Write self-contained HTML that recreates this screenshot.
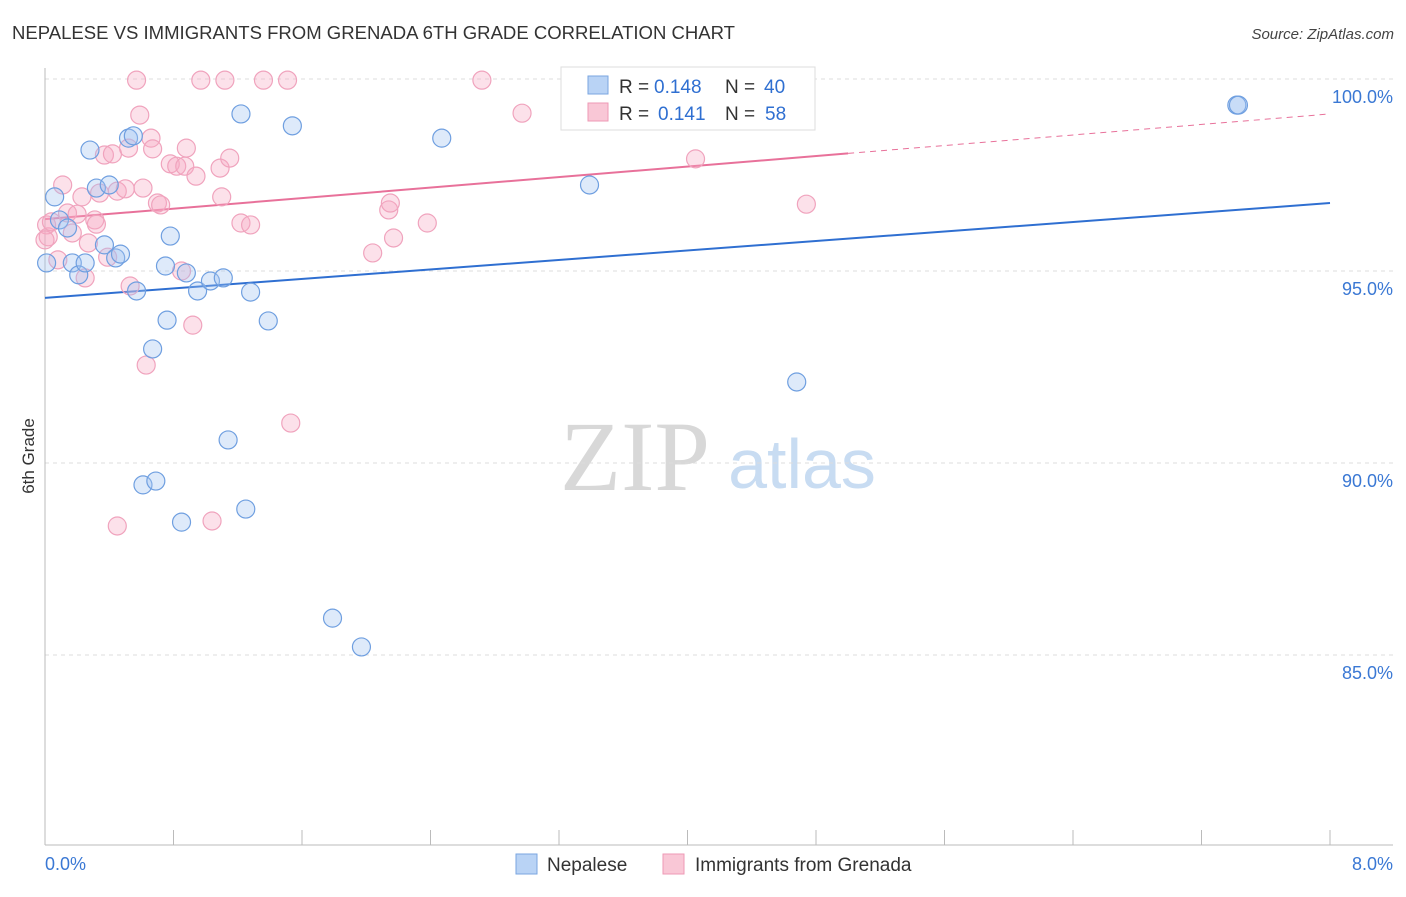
<!DOCTYPE html>
<html><head><meta charset="utf-8"><style>
body{margin:0;background:#fff;font-family:"Liberation Sans",sans-serif;}
</style></head><body>
<svg id="chart" width="1406" height="892" viewBox="0 0 1406 892" xmlns="http://www.w3.org/2000/svg" font-family="Liberation Sans, sans-serif">
<text x="12" y="39" font-size="18" fill="#333" textLength="723" lengthAdjust="spacingAndGlyphs">NEPALESE VS IMMIGRANTS FROM GRENADA 6TH GRADE CORRELATION CHART</text>
<text x="1394" y="39" font-size="15" fill="#444" text-anchor="end" font-style="italic">Source: ZipAtlas.com</text>
<text transform="translate(34,456) rotate(-90)" font-size="17" fill="#333" text-anchor="middle">6th Grade</text>
<g>
<text x="635" y="490" font-size="100" fill="#d8d8d8" text-anchor="middle" style="font-family:'Liberation Serif',serif">ZIP</text>
<text x="802" y="488" font-size="70" fill="#c8dcf2" text-anchor="middle">atlas</text>
</g>
<g id="grid"></g>
<g id="axes"></g>
<g id="lines"></g>
<g id="points"></g>
<g>
<rect x="561" y="67" width="254" height="63" fill="#fff" stroke="#ddd"/>
<rect x="588" y="76" width="20" height="18" fill="#b9d3f5" stroke="#7aa6e0"/>
<text x="619" y="93" font-size="19" fill="#333">R =</text>
<text x="654" y="93" font-size="19" fill="#2f6fd1">0.148</text>
<text x="725" y="93" font-size="19" fill="#333">N =</text>
<text x="764" y="93" font-size="19" fill="#2f6fd1">40</text>
<rect x="588" y="103" width="20" height="18" fill="#f9c7d6" stroke="#ee9ab5"/>
<text x="619" y="120" font-size="19" fill="#333">R =</text>
<text x="658" y="120" font-size="19" fill="#2f6fd1">0.141</text>
<text x="725" y="120" font-size="19" fill="#333">N =</text>
<text x="765" y="120" font-size="19" fill="#2f6fd1">58</text>
</g>
<g>
<rect x="516" y="854" width="21" height="20" fill="#b9d3f5" stroke="#7aa6e0"/>
<text x="547" y="871" font-size="19" fill="#333">Nepalese</text>
<rect x="663" y="854" width="21" height="20" fill="#f9c7d6" stroke="#ee9ab5"/>
<text x="695" y="871" font-size="19" fill="#333">Immigrants from Grenada</text>
</g>
</svg>
<script>
const yTicks=[100,95,90,85];
const xTickLabels=["0.0%","8.0%"];
const blueX=[.01,.06,.09,.14,.17,.21,.25,.28,.32,.37,.40,.44,.47,.52,.55,.57,.67,.61,.69,.75,.76,.78,.85,.88,.95,1.03,1.11,1.14,1.22,1.25,1.28,1.39,1.54,1.79,1.97,2.47,3.39,4.68,7.42,7.43];
const blueY=[95.21,96.93,96.33,96.12,95.21,94.90,95.21,98.15,97.16,95.68,97.24,95.34,95.44,98.46,98.52,94.48,92.97,89.43,89.53,95.13,93.72,95.91,88.46,94.95,94.48,94.74,94.82,90.60,99.09,88.80,94.45,93.70,98.78,85.96,85.21,98.46,97.24,92.11,99.32,99.32];
const pinkX=[.01,.02,.04,.08,.11,.14,.17,.20,.23,.25,.27,.31,.32,.34,.37,.39,.42,.45,.45,.50,.52,.53,.57,.59,.61,.63,.66,.67,.70,.72,.78,.82,.85,.87,.88,.92,.94,.97,1.04,1.09,1.10,1.12,1.15,1.22,1.28,1.36,1.51,1.53,2.04,2.14,2.15,2.17,2.38,2.72,2.97,4.05,4.74,0];
const pinkY=[96.20,95.89,96.28,95.29,97.24,96.51,95.99,96.48,96.93,94.82,95.73,96.33,96.22,97.03,98.02,95.36,98.05,97.08,88.36,97.14,98.20,94.61,99.97,99.06,97.16,92.55,98.46,98.18,96.77,96.72,97.79,97.73,95.00,97.73,98.20,93.59,97.47,99.97,88.49,97.68,96.93,99.97,97.94,96.25,96.20,99.97,99.97,91.04,95.47,96.59,96.77,95.86,96.25,99.97,99.11,97.92,96.74,95.81];
const blueTrend=[94.30,96.77];
const pinkTrend=[96.35,99.09];
const pinkSolidEnd=5.0;

const X0=45,X1=1330,Y100=79,PX5=192;
const sx=v=>X0+(v/8)*(X1-X0);
const sy=v=>Y100+(100-v)/5*PX5;
const NS="http://www.w3.org/2000/svg";
function mk(tag,attrs,parent){const e=document.createElementNS(NS,tag);for(const k in attrs)e.setAttribute(k,attrs[k]);document.getElementById(parent).appendChild(e);return e;}

yTicks.forEach(t=>{
  const l=mk('line',{x1:45,x2:1393,y1:sy(t),y2:sy(t),stroke:'#ddd','stroke-dasharray':'4,4'},'grid');
  
  
  const tx=mk('text',{x:1393,y:sy(t)+24,'font-size':18,fill:'#3a78d4','text-anchor':'end'},'grid');
  tx.textContent=t.toFixed(1)+'%';
  
  
});
const ax=mk('line',{x1:45,x2:45,y1:68,y2:845,stroke:'#bbb'},'axes');


const bx=mk('line',{x1:45,x2:1393,y1:845,y2:845,stroke:'#bbb'},'axes');


for(let i=0;i<=10;i++){
  const t=mk('line',{x1:sx(i*0.8),x2:sx(i*0.8),y1:830,y2:845,stroke:'#bbb'},'axes');
  
  
}
const xl0=mk('text',{x:45,y:870,'font-size':18,fill:'#3a78d4'},'axes');xl0.textContent=xTickLabels[0];


const xl1=mk('text',{x:1393,y:870,'font-size':18,fill:'#3a78d4','text-anchor':'end'},'axes');xl1.textContent=xTickLabels[1];



const ty=(tr,x)=>tr[0]+(tr[1]-tr[0])*x/8;
const bl=mk('line',{x1:sx(0),y1:sy(ty(blueTrend,0)),x2:sx(8),y2:sy(ty(blueTrend,8)),stroke:'#2f6fd1','stroke-width':2},'lines');


const pl=mk('line',{x1:sx(0),y1:sy(ty(pinkTrend,0)),x2:sx(pinkSolidEnd),y2:sy(ty(pinkTrend,pinkSolidEnd)),stroke:'#e8719a','stroke-width':2},'lines');


const pd=mk('line',{x1:sx(pinkSolidEnd),y1:sy(ty(pinkTrend,pinkSolidEnd)),x2:sx(8),y2:sy(ty(pinkTrend,8)),stroke:'#e8719a','stroke-width':1,'stroke-dasharray':'6,5'},'lines');



pinkX.forEach((x,i)=>{
  const c=mk('circle',{cx:sx(x),cy:sy(pinkY[i]),r:9,fill:'rgba(246,170,195,0.35)',stroke:'#f0a3bd','stroke-width':1.2},'points');
  
  
});
blueX.forEach((x,i)=>{
  const c=mk('circle',{cx:sx(x),cy:sy(blueY[i]),r:9,fill:'rgba(160,195,240,0.35)',stroke:'#6f9fe0','stroke-width':1.2},'points');
  
  
});
</script>
</body></html>
